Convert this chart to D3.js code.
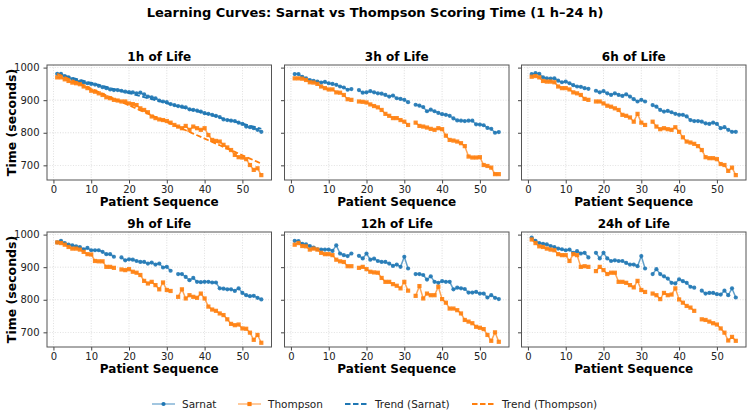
<!DOCTYPE html>
<html>
<head>
<meta charset="utf-8">
<script src="https://cdn.jsdelivr.net/npm/d3@7"></script>
<style>
  body { margin: 0; background: #fff; }
  svg { display: block; font-family: "DejaVu Sans", sans-serif; }
</style>
</head>
<body>
<svg id="chart" width="750" height="419"></svg>
<script>
// patient index 1..55, null = not recorded
const patients = d3.range(1, 56);
const panelTitles = ["1h of Life", "3h of Life", "6h of Life", "9h of Life", "12h of Life", "24h of Life"];
const xTicks = [0, 10, 20, 30, 40, 50];
const yTicks = [700, 800, 900, 1000];

const sarnat1h = [981,981,974,970,965,960,957,954,952,950, 948,944,940,937,933,931,931,929,926,925,
  924,921,923,918,911,909,906,899,896,894, 888,885,882,880,878,872,870,868,865,860,
  858,855,852,848,841,839,837,836,831,827, 819,817,814,809,803];
const thompson1h = [970,970,964,959,954,952,949,942,937,929, 926,921,916,909,906,901,899,896,896,890,
  888,885,875,870,863,850,845,841,839,836, 831,824,819,814,821,809,819,814,809,814,
  793,778,775,773,763,755,747,732,725,724, 719,701,686,691,670];

const sarnat3h = [980,980,972,967,962,959,957,954,956,952, 950,947,942,939,932,934,null,931,923,924,
  928,924,921,920,916,911,914,906,904,901, 894,null,886,883,879,866,871,866,861,857,
  855,852,844,838,837,836,837,837,826,825, 823,815,812,800,802];
const thompson3h = [967,967,966,962,955,954,950,942,937,933, 933,924,923,916,903,901,null,896,895,893,
  887,882,878,870,858,852,845,845,839,834, 824,null,831,821,819,816,812,809,814,811,
  791,778,776,773,768,759,727,724,724,725, 701,698,693,673,673];

const sarnat6h = [980,983,981,970,967,966,967,960,955,957, 952,946,942,941,937,935,null,929,924,928,
  921,916,921,916,913,918,911,903,896,901, 896,null,885,880,870,865,867,863,858,855,
  855,850,839,836,836,834,829,827,831,827, 814,817,809,803,803];
const thompson6h = [972,974,970,959,957,957,955,942,937,937, 933,924,921,916,904,901,null,896,896,890,
  883,880,875,870,855,852,847,834,858,831, 824,null,834,819,811,814,811,809,817,803,
  786,773,770,766,759,747,725,722,722,719, 704,701,683,693,670];

const sarnat9h = [976,981,974,969,967,964,962,955,959,952, 952,952,947,940,940,932,null,930,921,924,
  923,919,916,916,911,914,908,911,899,901, 889,null,879,879,870,860,867,855,854,855,
  855,853,853,835,834,832,832,827,835,821, 814,811,812,806,801];
const thompson9h = [976,974,969,962,957,957,954,947,940,939, 919,918,918,901,901,898,null,893,891,894,
  886,883,876,858,850,855,845,832,853,830, 827,null,809,832,804,814,809,806,819,804,
  779,770,766,758,753,740,726,722,724,712, 711,699,677,692,668];

const sarnat12h = [981,980,972,970,965,960,955,954,954,954, 950,967,942,937,934,942,null,935,927,942,
  923,926,919,916,916,911,904,908,901,932, 896,null,879,879,876,862,872,855,852,857,
  855,855,832,837,835,833,822,822,824,819, 819,807,814,806,802];
const thompson12h = [969,974,965,964,954,957,954,944,940,940, 937,923,918,916,903,903,null,898,901,894,
  886,884,883,867,855,855,848,843,835,855, 828,null,812,842,804,819,814,814,840,802,
  791,773,773,768,758,738,733,728,717,714, 710,692,674,700,671];

const sarnat24h = [991,981,974,972,970,965,962,957,955,952, 954,944,949,942,944,930,null,944,927,944,
  927,919,921,919,919,913,908,908,903,934, 896,null,879,894,879,872,865,852,850,863,
  857,852,840,837,null,828,819,821,821,817, 816,828,814,835,807];
const thompson24h = [985,974,964,962,957,954,952,940,937,937, 919,940,937,901,903,901,null,888,901,891,
  879,883,883,855,855,852,845,838,858,830, 824,null,819,814,802,821,814,816,835,801,
  791,781,776,766,null,740,738,733,728,724, 712,699,675,686,674];

const sarnatSeries = [sarnat1h, sarnat3h, sarnat6h, sarnat9h, sarnat12h, sarnat24h];
const thompsonSeries = [thompson1h, thompson3h, thompson6h, thompson9h, thompson12h, thompson24h];

const blue = "#1f77b4", orange = "#ff7f0e";
const svg = d3.select("#chart");
svg.append("rect").attr("width", 750).attr("height", 419).attr("fill", "#fff");

svg.append("text").attr("x", 375).attr("y", 17).attr("text-anchor", "middle")
  .attr("font-size", 13).attr("font-weight", "bold").attr("fill", "#000")
  .text("Learning Curves: Sarnat vs Thompson Scoring Time (1 h\u201324 h)");

const lefts = [47, 284.5, 521.5], tops = [65, 232];
const pw = 224.5, ph = 115;
const x = d3.scaleLinear().domain([-1.7, 57.7]).range([0, pw]);
const y = d3.scaleLinear().domain([655, 1008]).range([ph, 0]);

// least squares trend
function fit(vals) {
  const pts = patients.map((p, i) => [p, vals[i]]).filter(d => d[1] != null);
  const mx = d3.mean(pts, d => d[0]), my = d3.mean(pts, d => d[1]);
  const b = d3.sum(pts, d => (d[0]-mx)*(d[1]-my)) / d3.sum(pts, d => (d[0]-mx)**2);
  const a = my - b*mx;
  return patients.map(p => a + b*p);
}

panelTitles.forEach((title, k) => {
  const col = k % 3, row = Math.floor(k / 3);
  const g = svg.append("g").attr("transform", `translate(${lefts[col]},${tops[row]})`);

  // grid
  g.append("g").selectAll("line").data(xTicks).join("line")
    .attr("x1", d => x(d)).attr("x2", d => x(d)).attr("y1", 0).attr("y2", ph)
    .attr("stroke", "#b0b0b0").attr("stroke-width", 0.6).attr("stroke-dasharray", "1,1.6").attr("opacity", 0.7);
  g.append("g").selectAll("line").data(yTicks).join("line")
    .attr("y1", d => y(d)).attr("y2", d => y(d)).attr("x1", 0).attr("x2", pw)
    .attr("stroke", "#b0b0b0").attr("stroke-width", 0.6).attr("stroke-dasharray", "1,1.6").attr("opacity", 0.7);

  const line = d3.line().defined(d => d[1] != null).x(d => x(d[0])).y(d => y(d[1]));
  const sPts = patients.map((p, i) => [p, sarnatSeries[k][i]]);
  const tPts = patients.map((p, i) => [p, thompsonSeries[k][i]]);

  g.append("path").datum(sPts).attr("d", line).attr("fill", "none")
    .attr("stroke", blue).attr("stroke-width", 1.5).attr("stroke-opacity", 0.7);
  g.append("g").selectAll("circle").data(sPts.filter(d => d[1] != null)).join("circle")
    .attr("cx", d => x(d[0])).attr("cy", d => y(d[1])).attr("r", 2.1).attr("fill", blue).attr("opacity", 0.9);

  g.append("path").datum(tPts).attr("d", line).attr("fill", "none")
    .attr("stroke", orange).attr("stroke-width", 1.5).attr("stroke-opacity", 0.7);
  g.append("g").selectAll("rect").data(tPts.filter(d => d[1] != null)).join("rect")
    .attr("x", d => x(d[0]) - 2.1).attr("y", d => y(d[1]) - 2.1).attr("width", 4.2).attr("height", 4.2)
    .attr("fill", orange).attr("opacity", 0.9);

  if (k === 0) {
    const ts = fit(sarnat1h), tt = fit(thompson1h);
    g.append("path").datum(patients.map((p, i) => [p, ts[i]])).attr("d", line).attr("fill", "none")
      .attr("stroke", blue).attr("stroke-width", 1.8).attr("stroke-dasharray", "5.5,2.5");
    g.append("path").datum(patients.map((p, i) => [p, tt[i]])).attr("d", line).attr("fill", "none")
      .attr("stroke", orange).attr("stroke-width", 1.8).attr("stroke-dasharray", "5.5,2.5");
  }

  // axes
  const xa = g.append("g").attr("transform", `translate(0,${ph})`)
    .call(d3.axisBottom(x).tickValues(xTicks).tickSize(3.5).tickPadding(2));
  xa.select(".domain").remove();
  xa.selectAll("text").attr("font-size", 10).attr("fill", "#222").attr("font-family", "DejaVu Sans");
  xa.selectAll("line").attr("stroke", "#444");

  const ya = g.append("g").call(d3.axisLeft(y).tickValues(yTicks).tickSize(3.5).tickPadding(4)
    .tickFormat(col === 0 ? d3.format("d") : () => ""));
  ya.select(".domain").remove();
  ya.selectAll("text").attr("font-size", 10).attr("fill", "#222").attr("font-family", "DejaVu Sans");
  ya.selectAll("line").attr("stroke", "#444");

  g.append("rect").attr("width", pw).attr("height", ph).attr("fill", "none")
    .attr("stroke", "#555").attr("stroke-width", 1);

  g.append("text").attr("x", pw/2).attr("y", -4).attr("text-anchor", "middle")
    .attr("font-size", 12).attr("font-weight", "bold").text(title);
  g.append("text").attr("x", pw/2).attr("y", ph + 25.5).attr("text-anchor", "middle")
    .attr("font-size", 12).attr("font-weight", "bold").text("Patient Sequence");
  if (col === 0) {
    g.append("text").attr("transform", `translate(${-31},${ph/2}) rotate(-90)`)
      .attr("text-anchor", "middle").attr("font-size", 12.5).attr("font-weight", "bold")
      .text("Time (seconds)");
  }
});

// legend
const legendItems = [
  {label: "Sarnat", color: blue, dash: null, marker: "circle", x: 152},
  {label: "Thompson", color: orange, dash: null, marker: "square", x: 238},
  {label: "Trend (Sarnat)", color: blue, dash: "5.5,2.5", marker: null, x: 345},
  {label: "Trend (Thompson)", color: orange, dash: "5.5,2.5", marker: null, x: 472}
];
const lg = svg.append("g").attr("transform", "translate(0,404)");
const li = lg.selectAll("g").data(legendItems).join("g").attr("transform", d => `translate(${d.x},0)`);
li.append("line").attr("x1", 0).attr("x2", 23).attr("stroke", d => d.color)
  .attr("stroke-width", d => d.dash ? 1.8 : 1.5).attr("stroke-opacity", d => d.dash ? 1 : 0.55)
  .attr("stroke-dasharray", d => d.dash);
li.filter(d => d.marker === "circle").append("circle").attr("cx", 11.5).attr("r", 2.1).attr("fill", d => d.color);
li.filter(d => d.marker === "square").append("rect").attr("x", 9.4).attr("y", -2.1)
  .attr("width", 4.2).attr("height", 4.2).attr("fill", d => d.color);
li.append("text").attr("x", 30).attr("y", 3.8).attr("font-size", 10.5).attr("fill", "#222").text(d => d.label);
</script>
</body>
</html>
